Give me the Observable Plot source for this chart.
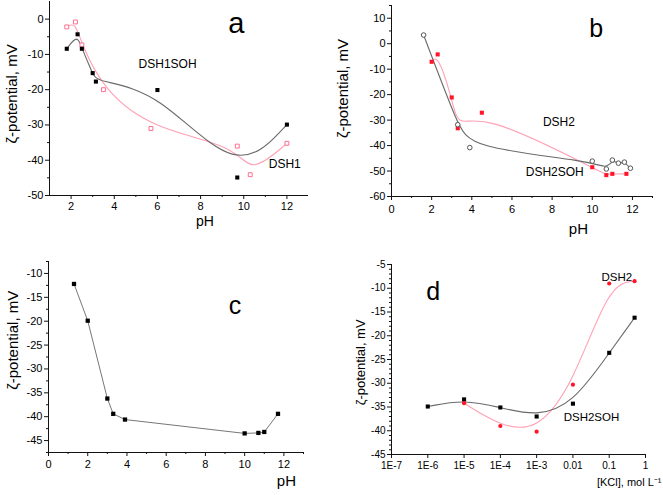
<!DOCTYPE html>
<html><head><meta charset="utf-8">
<script src="https://cdn.jsdelivr.net/npm/d3@7"></script>
<script src="https://cdn.jsdelivr.net/npm/@observablehq/plot@0.6"></script>
<style>
body{margin:0;background:#fff}
#fig{position:relative;width:663px;height:495px;overflow:hidden;background:#fff}
#fig svg{position:absolute}
</style>
</head><body><div id="fig"></div>
<script>
// ---------- Panel a (pH) ----------
const aSohX = [1.8, 2.3, 2.5, 3.0, 3.15, 6.0, 9.7, 12];
const aSohY = [-8.4, -4.3, -8.4, -15.3, -17.7, -20.1, -44.9, -29.9];
const aDsh1X = [1.8, 2.2, 2.5, 3.5, 5.7, 9.7, 10.3, 12];
const aDsh1Y = [-2.2, -0.8, -7.3, -20, -31, -36, -44.1, -35.2];
const aXDomain = [1, 13], aYDomain = [-50, 5];
const aXTicks = [2, 4, 6, 8, 10, 12], aXMinor = [3, 5, 7, 9, 11];
const aYTicks = [-50, -40, -30, -20, -10, 0], aYMinor = [-45, -35, -25, -15, -5];

// ---------- Panel b (pH) ----------
const bSohX = [1.6, 3.3, 3.9, 10.0, 10.7, 11.0, 11.3, 11.6, 11.9];
const bSohY = [3.4, -31.8, -40.8, -46.1, -49.2, -45.7, -46.9, -46.5, -48.9];
const bDsh2X = [2.0, 2.3, 3.0, 3.3, 4.5, 10.0, 10.7, 11.0, 11.7];
const bDsh2Y = [-7.1, -4.2, -21.1, -33.2, -27.1, -48.5, -51.6, -51.1, -51.1];
const bXDomain = [0, 13], bYDomain = [-60, 15];
const bXTicks = [0, 2, 4, 6, 8, 10, 12], bXMinor = [1, 3, 5, 7, 9, 11, 13];
const bYTicks = [-60, -50, -40, -30, -20, -10, 0, 10], bYMinor = [-55, -45, -35, -25, -15, -5, 5, 15];

// ---------- Panel c (pH) ----------
const cX = [1.3, 2.0, 3.0, 3.3, 3.9, 10.0, 10.7, 11.0, 11.7];
const cY = [-12.2, -19.9, -36.2, -39.4, -40.6, -43.5, -43.4, -43.2, -39.4];
const cXDomain = [0, 13], cYDomain = [-47.5, -7.5];
const cXTicks = [0, 2, 4, 6, 8, 10, 12], cXMinor = [1, 3, 5, 7, 9, 11, 13];
const cYTicks = [-45, -40, -35, -30, -25, -20, -15, -10], cYMinor = [-47.5, -42.5, -37.5, -32.5, -27.5, -22.5, -17.5, -12.5, -7.5];

// ---------- Panel d ([KCl]) ----------
const dSohC = [1e-6, 1e-5, 1e-4, 1e-3, 0.01, 0.1, 0.5];
const dSohY = [-34.9, -33.4, -35.1, -37.0, -34.3, -23.6, -16.2];
const dDsh2C = [1e-5, 1e-4, 1e-3, 0.01, 0.1, 0.5];
const dDsh2Y = [-34.2, -39.0, -40.2, -30.3, -9.0, -8.5];
const dXDomain = [1e-7, 1], dYDomain = [-45, -5];
const dXTicks = [1e-7, 1e-6, 1e-5, 1e-4, 1e-3, 0.01, 0.1, 1];
const dXTickLabels = ["1E-7", "1E-6", "1E-5", "1E-4", "1E-3", "0.01", "0.1", "1"];
const dYTicks = [-45, -40, -35, -30, -25, -20, -15, -10, -5];
const dYMinor = d3.range(-44, -5, 1).filter(v => v % 5 !== 0);

const font = "'Liberation Sans', Arial, Helvetica, sans-serif";
const ink = "#111";
const grayLine = "#6a6a6a";
const pinkLine = "#ffa0b4";
const pinkMark = "#ff6f90";
const redMark = "#ff1428";

const pts = (xs, ys) => xs.map((x, i) => ({x, y: ys[i]}));
const fmt = d => String(d);

function axes(xD, yD, xT, xM, yT, yM, fs, xPad, xFmt) {
  return [
    Plot.ruleX([xD[0]], {stroke: ink, strokeWidth: 1}),
    Plot.ruleY([yD[0]], {stroke: ink, strokeWidth: 1}),
    Plot.axisX({ticks: xT, tickSize: 4, tickPadding: xPad, tickFormat: xFmt || fmt, label: null, fontSize: fs, stroke: ink, fill: "#000"}),
    Plot.axisX({ticks: xM, tickSize: 2, tickFormat: () => "", label: null, stroke: ink}),
    Plot.axisY({ticks: yT, tickSize: 4, tickPadding: 2, tickFormat: fmt, label: null, fontSize: fs, stroke: ink, fill: "#000"}),
    Plot.axisY({ticks: yM, tickSize: 2, tickFormat: () => "", label: null, stroke: ink})
  ];
}

function place(svg, left, top) {
  svg.style.left = left + "px";
  svg.style.top = top + "px";
  document.getElementById("fig").appendChild(svg);
}

const baseStyle = {fontFamily: font, color: "#000", background: "transparent", overflow: "visible"};

// Panel a
place(Plot.plot({
  width: 331, height: 248, marginLeft: 49, marginRight: 23, marginTop: 1, marginBottom: 53,
  x: {domain: aXDomain}, y: {domain: aYDomain},
  style: baseStyle,
  marks: [
    ...axes(aXDomain, aYDomain, aXTicks, aXMinor, aYTicks, aYMinor, 11, 3),
    Plot.line(pts(aDsh1X, aDsh1Y), {x: "x", y: "y", curve: "basis", stroke: pinkLine, strokeWidth: 1.1}),
    Plot.line(pts(aSohX, aSohY), {x: "x", y: "y", curve: "basis", stroke: grayLine, strokeWidth: 1.1}),
    Plot.dot(pts(aDsh1X, aDsh1Y), {x: "x", y: "y", symbol: "square", r: 2.2, stroke: pinkMark, fill: "white", strokeWidth: 1}),
    Plot.dot(pts(aSohX, aSohY), {x: "x", y: "y", symbol: "square", r: 2.3, fill: "#000"}),
    Plot.text([{x: 6.47, y: -12.8, t: "DSH1SOH"}], {x: "x", y: "y", text: "t", fontSize: 12, fill: "#000"}),
    Plot.text([{x: 11.9, y: -41.2, t: "DSH1"}], {x: "x", y: "y", text: "t", fontSize: 12, fill: "#000"}),
    Plot.text([{x: 9.65, y: -1.4, t: "a"}], {x: "x", y: "y", text: "t", fontSize: 29, fill: "#000"}),
    Plot.text([{x: -0.73, y: -21.2, t: "ζ-potential, mV"}], {x: "x", y: "y", text: "t", rotate: -90, fontSize: 15, fill: "#000"}),
    Plot.text([{x: 8.2, t: "pH"}], {x: "x", text: "t", frameAnchor: "bottom", dy: 30, fontSize: 14, fill: "#000"})
  ]
}), 0, 0);

// Panel b
place(Plot.plot({
  width: 332, height: 248, marginLeft: 60, marginRight: 11, marginTop: 5, marginBottom: 52,
  x: {domain: bXDomain}, y: {domain: bYDomain},
  style: baseStyle,
  marks: [
    ...axes(bXDomain, bYDomain, bXTicks, bXMinor, bYTicks, bYMinor, 11, 5),
    Plot.line(pts(bDsh2X, bDsh2Y), {x: "x", y: "y", curve: "basis", stroke: pinkLine, strokeWidth: 1.1}),
    Plot.line(pts(bSohX, bSohY), {x: "x", y: "y", curve: "basis", stroke: grayLine, strokeWidth: 1.1}),
    Plot.dot(pts(bDsh2X, bDsh2Y), {x: "x", y: "y", symbol: "square", r: 2.3, fill: redMark}),
    Plot.dot(pts(bSohX, bSohY), {x: "x", y: "y", r: 2.3, stroke: "#555", fill: "white", strokeWidth: 1}),
    Plot.text([{x: 8.34, y: -30.7, t: "DSH2"}], {x: "x", y: "y", text: "t", fontSize: 12, fill: "#000"}),
    Plot.text([{x: 8.13, y: -50.6, t: "DSH2SOH"}], {x: "x", y: "y", text: "t", fontSize: 12, fill: "#000"}),
    Plot.text([{x: 10.19, y: 5.95, t: "b"}], {x: "x", y: "y", text: "t", fontSize: 25, fill: "#000"}),
    Plot.text([{x: -2.4, y: -17.6, t: "ζ-potential, mV"}], {x: "x", y: "y", text: "t", rotate: -90, fontSize: 15, fill: "#000"}),
    Plot.text([{x: 9.31, t: "pH"}], {x: "x", text: "t", frameAnchor: "bottom", dy: 37, fontSize: 15, fill: "#000"})
  ]
}), 331, 0);

// Panel c
place(Plot.plot({
  width: 331, height: 247, marginLeft: 48, marginRight: 28, marginTop: 13, marginBottom: 43,
  x: {domain: cXDomain}, y: {domain: cYDomain},
  style: baseStyle,
  marks: [
    ...axes(cXDomain, cYDomain, cXTicks, cXMinor, cYTicks, cYMinor, 11, 4),
    Plot.line(pts(cX, cY), {x: "x", y: "y", stroke: "#777", strokeWidth: 1}),
    Plot.dot(pts(cX, cY), {x: "x", y: "y", symbol: "square", r: 2.4, fill: "#000"}),
    Plot.text([{x: 9.51, y: -16.85, t: "c"}], {x: "x", y: "y", text: "t", fontSize: 25, fill: "#000"}),
    Plot.text([{x: -1.82, y: -24, t: "ζ-potential, mV"}], {x: "x", y: "y", text: "t", rotate: -90, fontSize: 15, fill: "#000"}),
    Plot.text([{x: 12.13, t: "pH"}], {x: "x", text: "t", frameAnchor: "bottom", dy: 33, fontSize: 15, fill: "#000"})
  ]
}), 0, 248);

// Panel d
place(Plot.plot({
  width: 332, height: 247, marginLeft: 60, marginRight: 18, marginTop: 16, marginBottom: 41,
  x: {type: "log", domain: dXDomain}, y: {domain: dYDomain},
  style: baseStyle,
  marks: [
    ...axes(dXDomain, dYDomain, dXTicks, [], dYTicks, dYMinor, 10, 3, d => dXTickLabels[dXTicks.indexOf(d)]),
    Plot.line(pts(dDsh2C, dDsh2Y), {x: "x", y: "y", curve: "basis", stroke: pinkLine, strokeWidth: 1.1}),
    Plot.line(pts(dSohC, dSohY), {x: "x", y: "y", curve: "basis", stroke: grayLine, strokeWidth: 1.1}),
    Plot.dot(pts(dSohC, dSohY), {x: "x", y: "y", symbol: "square", r: 2.3, fill: "#000"}),
    Plot.dot(pts(dDsh2C, dDsh2Y), {x: "x", y: "y", r: 2.1, fill: redMark}),
    Plot.text([{x: 0.162, y: -7.67, t: "DSH2"}], {x: "x", y: "y", text: "t", fontSize: 11.5, fill: "#000"}),
    Plot.text([{x: 0.0324, y: -37.15, t: "DSH2SOH"}], {x: "x", y: "y", text: "t", fontSize: 11.5, fill: "#000"}),
    Plot.text([{x: 1.41e-6, y: -10.7, t: "d"}], {x: "x", y: "y", text: "t", fontSize: 25, fill: "#000"}),
    Plot.text([{x: 1.43e-8, y: -25.6, t: "ζ-potential, mV"}], {x: "x", y: "y", text: "t", rotate: -90, fontSize: 13, fill: "#000"}),
    Plot.text([{x: 2.75, t: "[KCl], mol L⁻¹"}], {x: "x", text: "t", frameAnchor: "bottom", textAnchor: "end", dy: 31, fontSize: 11, fill: "#000"})
  ]
}), 331, 248);
</script></body></html>
